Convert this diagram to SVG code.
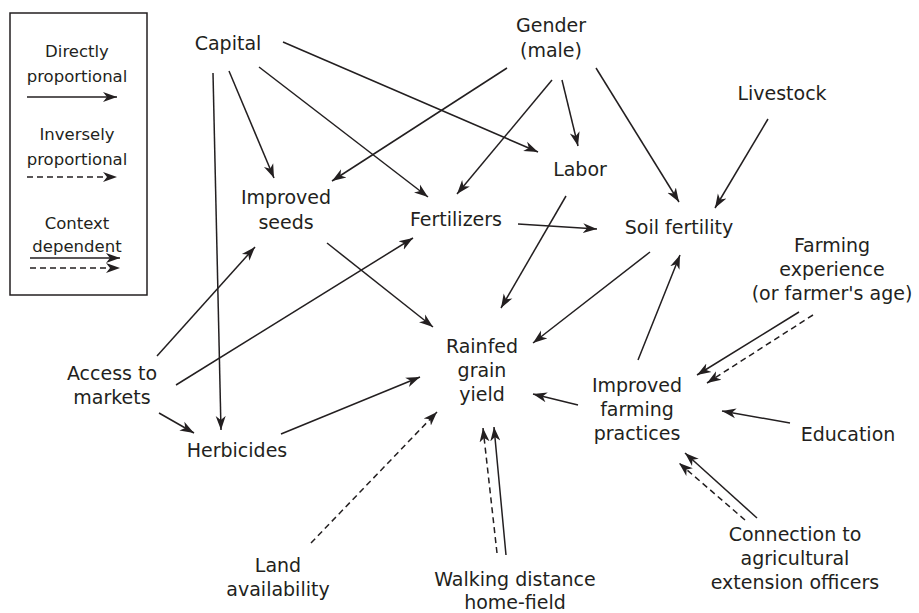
<svg xmlns="http://www.w3.org/2000/svg" width="919" height="613" viewBox="0 0 919 613">
<style>
text{font-family:"DejaVu Sans",Verdana,sans-serif;fill:#231f20;text-anchor:middle}
.n{font-size:19px}
.lg{font-size:16.5px}
.c line,.lgd line{stroke:#231f20;stroke-width:1.5;fill:none;marker-end:url(#ah)}
.c line.d,.lgd line.d{stroke-dasharray:6,4}
</style>
<defs>
<marker id="ah" markerUnits="userSpaceOnUse" markerWidth="15" markerHeight="12" viewBox="0 0 15 12" refX="14" refY="6" orient="auto">
<path d="M0,1 L14,6 L0,11 L4,6 z" fill="#231f20"/>
</marker>
</defs>
<rect width="919" height="613" fill="#fff"/>
<g id="legend" class="lgd">
<rect x="10" y="13" width="137" height="282" fill="none" stroke="#231f20" stroke-width="1.5"/>
<text class="lg" x="77" y="57">Directly</text>
<text class="lg" x="77" y="82">proportional</text>
<line x1="27" y1="97" x2="117" y2="97"/>
<text class="lg" x="77" y="140">Inversely</text>
<text class="lg" x="77" y="165">proportional</text>
<line class="d" x1="27" y1="177" x2="117" y2="177"/>
<text class="lg" x="77" y="229">Context</text>
<text class="lg" x="77" y="252">dependent</text>
<line x1="30" y1="258" x2="120" y2="258"/>
<line class="d" x1="30" y1="268" x2="120" y2="268"/>
</g>
<g id="capital"><text class="n" x="228" y="50">Capital</text></g>
<g id="gender"><text class="n" x="551" y="32">Gender</text><text class="n" x="551" y="57">(male)</text></g>
<g id="livestock"><text class="n" x="782" y="100">Livestock</text></g>
<g id="labor"><text class="n" x="580" y="176">Labor</text></g>
<g id="seeds"><text class="n" x="286" y="204">Improved</text><text class="n" x="286" y="229">seeds</text></g>
<g id="fertilizers"><text class="n" x="456" y="226">Fertilizers</text></g>
<g id="soil"><text class="n" x="679" y="234">Soil fertility</text></g>
<g id="experience"><text class="n" x="832" y="252">Farming</text><text class="n" x="832" y="276">experience</text><text class="n" x="832" y="300">(or farmer's age)</text></g>
<g id="yield"><text class="n" x="482" y="353">Rainfed</text><text class="n" x="482" y="377">grain</text><text class="n" x="482" y="401">yield</text></g>
<g id="practices"><text class="n" x="637" y="392">Improved</text><text class="n" x="637" y="416">farming</text><text class="n" x="637" y="440">practices</text></g>
<g id="education"><text class="n" x="848" y="441">Education</text></g>
<g id="access"><text class="n" x="112" y="380">Access to</text><text class="n" x="112" y="404">markets</text></g>
<g id="herbicides"><text class="n" x="237" y="457">Herbicides</text></g>
<g id="land"><text class="n" x="278" y="572">Land</text><text class="n" x="278" y="596">availability</text></g>
<g id="walking"><text class="n" x="515" y="586">Walking distance</text><text class="n" x="515" y="609">home-field</text></g>
<g id="connection"><text class="n" x="795" y="541">Connection to</text><text class="n" x="795" y="565">agricultural</text><text class="n" x="795" y="589">extension officers</text></g>
<g id="connectors" class="c">
<line x1="213" y1="73" x2="221" y2="430"/>
<line x1="229" y1="71" x2="274" y2="178"/>
<line x1="259" y1="67" x2="428" y2="197"/>
<line x1="283" y1="42" x2="538" y2="152"/>
<line x1="507" y1="68" x2="332" y2="181"/>
<line x1="552" y1="80" x2="457" y2="194"/>
<line x1="562" y1="80" x2="578" y2="146"/>
<line x1="596" y1="68" x2="679" y2="202"/>
<line x1="768" y1="119" x2="715" y2="208"/>
<line x1="518" y1="224" x2="597" y2="229"/>
<line x1="566" y1="196" x2="501" y2="308"/>
<line x1="650" y1="252" x2="533" y2="343"/>
<line x1="638" y1="360" x2="680" y2="255"/>
<line x1="327" y1="243" x2="433" y2="327"/>
<line x1="157" y1="356" x2="255" y2="247"/>
<line x1="176" y1="385" x2="413" y2="238"/>
<line x1="159" y1="413" x2="194" y2="433"/>
<line x1="281" y1="434" x2="420" y2="377"/>
<line class="d" x1="311" y1="543" x2="437" y2="412"/>
<line x1="506" y1="555" x2="494" y2="427"/>
<line class="d" x1="497" y1="553" x2="483" y2="428"/>
<line x1="578" y1="405" x2="533" y2="394"/>
<line x1="799" y1="312" x2="697" y2="375"/>
<line class="d" x1="813" y1="315" x2="707" y2="383"/>
<line x1="790" y1="423" x2="722" y2="411"/>
<line x1="757" y1="518" x2="685" y2="453"/>
<line class="d" x1="745" y1="520" x2="679" y2="463"/>
</g>
</svg>
